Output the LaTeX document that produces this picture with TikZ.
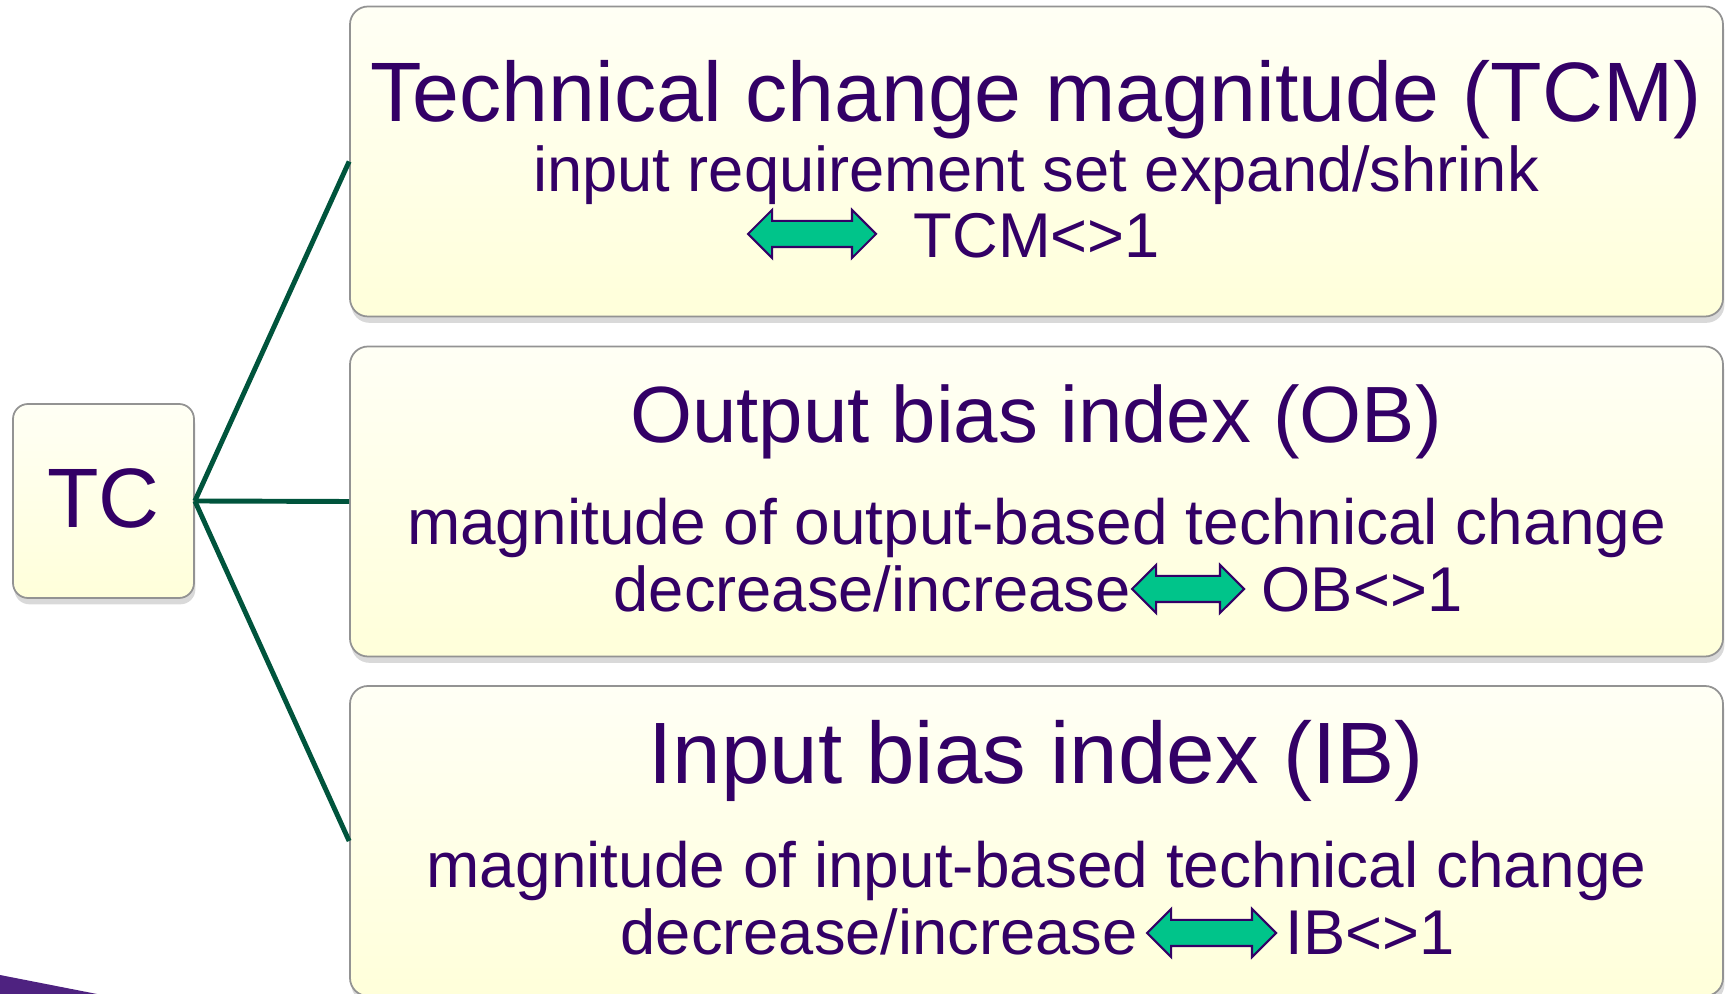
\documentclass[tikz,border=0pt]{standalone}
\usepackage{fontspec}
\setmainfont{Liberation Sans}
\usepackage{tikz}
\usetikzlibrary{positioning}
\usetikzlibrary{shapes.arrows,shadows}

\definecolor{txtpurple}{RGB}{51,0,102}
\definecolor{linkgreen}{RGB}{0,84,60}
\definecolor{arrowgreen}{RGB}{0,196,138}
\definecolor{boxtop}{RGB}{255,255,245}
\definecolor{boxbottom}{RGB}{255,255,218}
\definecolor{cornerpurple}{RGB}{78,34,128}

\tikzset{
  box/.style={draw=gray!85, line width=0.5pt, rounded corners=0.18cm,
    top color=boxtop, bottom color=boxbottom,
    drop shadow={shadow xshift=0.4pt, shadow yshift=-1.8pt, opacity=0.3},
    minimum width=13.73cm, minimum height=3.1cm, inner sep=0},
  headtext/.style={text=txtpurple, inner sep=0, anchor=base},
  bodytext/.style={text=txtpurple, inner sep=0, anchor=base,
    font=\fontsize{18}{22}\selectfont},
  dblarrow/.style={shape=double arrow, draw=txtpurple, line width=0.6pt,
    fill=arrowgreen, inner xsep=0, inner ysep=0.12cm,
    double arrow head extend=0.11cm},
  link/.style={draw=linkgreen, line width=1.4pt}
}

\begin{document}
\begin{tikzpicture}
  \useasboundingbox (0,0) rectangle (17.29,-9.94);

  % Corner
  \fill[cornerpurple] (0,-9.75) -- (0.97,-9.94) -- (0,-9.94) -- cycle;

  % Nodes
  \node[box, minimum width=1.81cm, minimum height=1.94cm, rounded corners=0.15cm,
    text=txtpurple, font=\fontsize{24}{28}\selectfont] (tc) at (1.035,-5.01)
    {\raisebox{0.06cm}{TC}};
  \node[box] (tcm) at (10.365,-1.615) {};
  \node[box] (ob) at (10.365,-5.015) {};
  \node[box] (ib) at (10.365,-8.41) {};

  % Texts: TCM
  \node[headtext, font=\fontsize{24}{28}\selectfont] (tcmhead) at (10.36,-1.22)
    {Technical change magnitude (TCM)};
  \node[bodytext] (tcmbody) at (10.36,-1.92) {input requirement set expand/shrink};
  \node[dblarrow, minimum height=1.28cm] (tcmarrow) at (8.12,-2.34) {};
  \node[bodytext, anchor=base west] (tcmval) at (9.13,-2.58) {TCM<>1};

  % Texts: OB
  \node[headtext, font=\fontsize{22.7}{26}\selectfont] (obhead) at (10.36,-4.43)
    {Output bias index (OB)};
  \node[bodytext, font=\fontsize{18.2}{22}\selectfont] (obbody) at (10.365,-5.45)
    {magnitude of output-based technical change};
  \node[bodytext, anchor=base west] (obdir) at (6.13,-6.12) {decrease/increase};
  \node[dblarrow, minimum height=1.12cm] (obarrow) at (11.88,-5.89) {};
  \node[bodytext, anchor=base west] (obval) at (12.61,-6.12) {OB<>1};

  % Texts: IB
  \node[headtext, font=\fontsize{24.8}{28}\selectfont] (ibhead) at (10.36,-7.84)
    {Input bias index (IB)};
  \node[bodytext, font=\fontsize{18.2}{22}\selectfont] (ibbody) at (10.365,-8.88)
    {magnitude of input-based technical change};
  \node[bodytext, anchor=base west] (ibdir) at (6.20,-9.55) {decrease/increase};
  \node[dblarrow, minimum height=1.29cm] (ibarrow) at (12.115,-9.33) {};
  \node[bodytext, anchor=base west] (ibval) at (12.85,-9.55) {IB<>1};

  % Links
  \draw[link] (tc.east) -- (tcm.west);
  \draw[link] (tc.east) -- (ob.west);
  \draw[link] (tc.east) -- (ib.west);
\end{tikzpicture}
\end{document}
